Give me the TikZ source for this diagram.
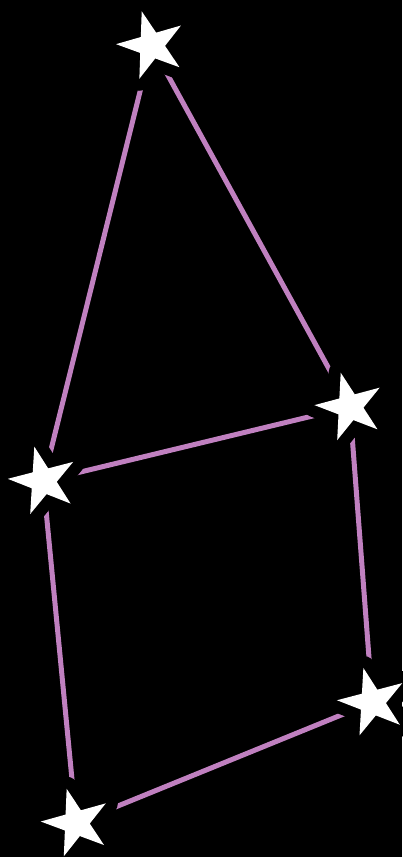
\documentclass[tikz,border=0pt]{standalone}
\usetikzlibrary{shapes.geometric,backgrounds}
\definecolor{linkpink}{RGB}{192,128,192}
\begin{document}
\begin{tikzpicture}[x=1pt,y=1pt,
  starnode/.style={star, star points=5, star point ratio=2.618, minimum size=71pt,
    inner sep=0pt, fill=white, draw=none,
    preaction={draw=black, line width=24pt, line join=round}},
  link/.style={draw=linkpink, line width=5pt}]
\useasboundingbox (0,0) rectangle (402,857);
\node[starnode, shape border rotate=16] (s1) at (151.5,811.6) {};
\node[starnode, shape border rotate=14.5] (s2) at (43.2,376) {};
\node[starnode, shape border rotate=15] (s3) at (349.9,450) {};
\node[starnode, shape border rotate=14.7] (s4) at (372.4,154.7) {};
\node[starnode, shape border rotate=15.6] (s5) at (76.2,34) {};
\begin{pgfonlayer}{background}
\fill[black] (0,0) rectangle (402,857);
\draw[link] (s1.center) -- (s2.center);
\draw[link] (s1.center) -- (s3.center);
\draw[link] (s2.center) -- (s3.center);
\draw[link] (s3.center) -- (s4.center);
\draw[link] (s4.center) -- (s5.center);
\draw[link] (s5.center) -- (s2.center);
\end{pgfonlayer}
\end{tikzpicture}
\end{document}
